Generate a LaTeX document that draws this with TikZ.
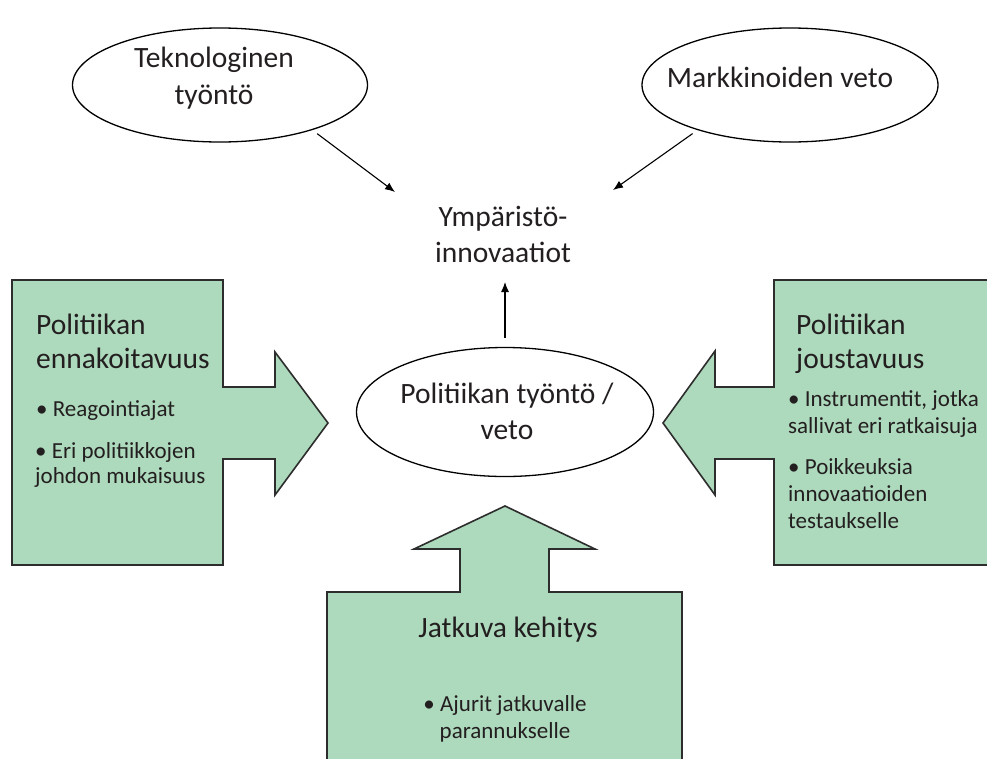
\documentclass[tikz,border=0pt]{standalone}
\usepackage{fontspec}
\setmainfont{Carlito}
\usetikzlibrary{shapes.geometric,arrows.meta}
\definecolor{boxgreen}{RGB}{173,217,188}
\definecolor{edge}{RGB}{45,45,45}
\definecolor{ink}{RGB}{35,31,32}
\tikzset{
  oval/.style={ellipse, draw=black, line width=1.3pt, fill=white, inner sep=0pt},
  ovaltext/.style={anchor=base, align=center, inner sep=0pt, text=ink, font=\fontsize{29.5}{36}\selectfont},
  blockarrow/.style={fill=boxgreen, draw=edge, line width=1.6pt, line join=miter},
  title/.style={anchor=base west, align=left, inner sep=0pt, text=ink, font=\fontsize{29.5}{34}\selectfont},
  bullet/.style={anchor=base west, align=left, inner sep=0pt, text=ink, font=\fontsize{23}{26.5}\selectfont},
  conn/.style={line width=1.1pt, -{Latex[length=10pt,width=8pt]}},
}
\begin{document}
\begin{tikzpicture}[x=1pt,y=-1pt]
\useasboundingbox (0,0) rectangle (987,758);
\clip (0,0) rectangle (987,758);
\fill[white] (0,0) rectangle (987,758);

% block arrows
\draw[blockarrow] (12,280) -- (223,280) -- (223,387) -- (275,387) -- (275,352) -- (328,423)
  -- (275,495) -- (275,459) -- (223,459) -- (223,565) -- (12,565) -- cycle;
\draw[blockarrow] (995,280) -- (774,280) -- (774,387) -- (715,387) -- (715,351) -- (663,423)
  -- (715,495) -- (715,459) -- (774,459) -- (774,565) -- (995,565);
\draw[blockarrow] (327,770) -- (327,592) -- (460,592) -- (460,549) -- (414,549) -- (505,506)
  -- (595,549) -- (549,549) -- (549,592) -- (682,592) -- (682,770);

% ellipses
\node[oval, minimum width=295pt, minimum height=114pt] (tek) at (220,85) {};
\node[oval, minimum width=296pt, minimum height=114pt] (mark) at (790,85) {};
\node[oval, minimum width=297pt, minimum height=129pt] (pol) at (505,412) {};
\node[ovaltext, font=\fontsize{29.5}{37}\selectfont] (tektext) at (214,104) {Teknologinen\\työntö};
\node[ovaltext] (marktext) at (780,87) {Markkinoiden veto};
\node[ovaltext] (poltext) at (507,439) {Politiikan työntö /\\veto};

% central text
\node[ovaltext] (eco) at (503,262) {Ympäristö-\\innovaatiot};

\coordinate (ecoL) at (395,192);
\coordinate (ecoR) at (613,190);
\coordinate (ecoB) at (505,282);
\draw[conn, shorten <=6pt] (tek.-26) -- (ecoL);
\draw[conn, shorten <=6pt] (mark.-154) -- (ecoR);
\draw[conn, shorten <=9pt] (pol.north) -- (ecoB);

% left box text
\node[title] (lt) at (36,368) {Politiikan\\ennakoitavuus};
\node[bullet] (lb1) at (36,416) {• Reagointiajat};
\node[bullet, font=\fontsize{23}{25}\selectfont] (lb2) at (35,483) {• Eri politiikkojen\\johdon mukaisuus};

% right box text
\node[title] (rt) at (796,368) {Politiikan\\joustavuus};
\node[bullet] (rb1) at (788,433) {• Instrumentit, jotka\\sallivat eri ratkaisuja};
\node[bullet, font=\fontsize{23}{27}\selectfont] (rb2) at (788,528) {• Poikkeuksia\\innovaatioiden\\testaukselle};

% bottom box text
\node[title, anchor=base] (bt) at (508,637) {Jatkuva kehitys};
\node[bullet, anchor=base, align=center, font=\fontsize{23}{27}\selectfont] (bb) at (505,738) {• Ajurit jatkuvalle\\parannukselle};
\end{tikzpicture}
\end{document}
